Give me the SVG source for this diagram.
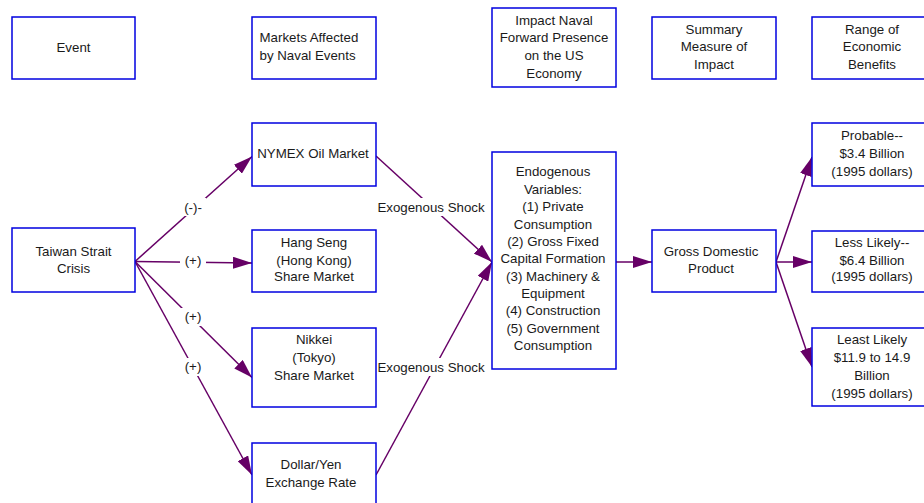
<svg xmlns="http://www.w3.org/2000/svg" width="924" height="503" viewBox="0 0 924 503">
<style>
.box{fill:#fff;stroke:#0000e0;stroke-width:1.5}
.t{font-family:"Liberation Sans",Arial,sans-serif;font-size:13.3px;fill:#1a1a1a;text-anchor:middle}
.tl{text-anchor:start}
.c{stroke:#660066;stroke-width:1.5;fill:none;marker-end:url(#ah)}
.lb{fill:#fff}
</style>
<defs>
<marker id="ah" markerUnits="userSpaceOnUse" markerWidth="20" markerHeight="12" refX="19" refY="6" orient="auto">
<path d="M0,0 L19,6 L0,12 Z" fill="#660066"/>
</marker>
</defs>
<rect width="924" height="503" fill="#fff"/>

<g id="connectors">
<path class="c" d="M135,261.5 L252,156.5"/>
<path class="c" d="M135,261.5 L252,263"/>
<path class="c" d="M135,261.5 L252,377.5"/>
<path class="c" d="M135,261.5 L252,475"/>
<path class="c" d="M376,156 L492,262"/>
<path class="c" d="M376,475 L492,262"/>
<path class="c" d="M616,262 L652,262"/>
<path class="c" d="M776,262 L812,157"/>
<path class="c" d="M776,262 L812,262"/>
<path class="c" d="M776,262 L812,367"/>
<rect class="lb" x="180" y="198" width="26" height="18"/>
<text class="t" x="193" y="212">(-)-</text>
<rect class="lb" x="180" y="252" width="26" height="18"/>
<text class="t" x="193" y="265">(+)</text>
<rect class="lb" x="180" y="308" width="26" height="18"/>
<text class="t" x="193" y="321">(+)</text>
<rect class="lb" x="180" y="358" width="26" height="18"/>
<text class="t" x="193" y="371">(+)</text>
<rect class="lb" x="376" y="198" width="110" height="18"/>
<text class="t" x="431" y="211.5">Exogenous Shock</text>
<rect class="lb" x="376" y="358" width="110" height="18"/>
<text class="t" x="431" y="371.5">Exogenous Shock</text>
</g>

<g id="event"><rect class="box" x="12" y="17" width="123" height="62"/><text class="t" x="73.5" y="51.5">Event</text></g>
<g id="markets"><rect class="box" x="252" y="17" width="124" height="62"/><text class="t tl" x="259.5" y="42">Markets Affected</text><text class="t tl" x="259.5" y="60">by Naval Events</text></g>
<g id="impact"><rect class="box" x="492" y="8" width="124" height="79"/><text class="t" x="554" y="24.5">Impact Naval</text><text class="t" x="554" y="42">Forward Presence</text><text class="t" x="554" y="59.5">on the US</text><text class="t" x="554" y="77.5">Economy</text></g>
<g id="summary"><rect class="box" x="652" y="17" width="124" height="62"/><text class="t" x="714" y="33.5">Summary</text><text class="t" x="714" y="51">Measure of</text><text class="t" x="714" y="68.5">Impact</text></g>
<g id="range"><rect class="box" x="812" y="17" width="124" height="62"/><text class="t" x="872" y="33.5">Range of</text><text class="t" x="872" y="51">Economic</text><text class="t" x="872" y="68.5">Benefits</text></g>

<g id="taiwan"><rect class="box" x="12" y="228" width="123" height="64"/><text class="t" x="73.5" y="256">Taiwan Strait</text><text class="t" x="73.5" y="273">Crisis</text></g>
<g id="nymex"><rect class="box" x="252" y="123" width="124" height="63"/><text class="t" x="313" y="158">NYMEX Oil Market</text></g>
<g id="hangseng"><rect class="box" x="252" y="230" width="124" height="62"/><text class="t" x="314" y="247">Hang Seng</text><text class="t" x="314" y="264.5">(Hong Kong)</text><text class="t" x="314" y="281">Share Market</text></g>
<g id="nikkei"><rect class="box" x="252" y="328" width="124" height="79"/><text class="t" x="314" y="344">Nikkei</text><text class="t" x="314" y="362">(Tokyo)</text><text class="t" x="314" y="380">Share Market</text></g>
<g id="dollaryen"><rect class="box" x="252" y="443" width="124" height="64"/><text class="t" x="311" y="469">Dollar/Yen</text><text class="t" x="311" y="487">Exchange Rate</text></g>

<g id="endogenous"><rect class="box" x="492" y="152" width="124" height="217"/>
<text class="t" x="553" y="176">Endogenous</text>
<text class="t" x="553" y="193.5">Variables:</text>
<text class="t" x="553" y="211">(1) Private</text>
<text class="t" x="553" y="228.5">Consumption</text>
<text class="t" x="553" y="246">(2) Gross Fixed</text>
<text class="t" x="553" y="263">Capital Formation</text>
<text class="t" x="553" y="280.5">(3) Machinery &amp;</text>
<text class="t" x="553" y="298">Equipment</text>
<text class="t" x="553" y="315">(4) Construction</text>
<text class="t" x="553" y="332.5">(5) Government</text>
<text class="t" x="553" y="350">Consumption</text>
</g>
<g id="gdp"><rect class="box" x="652" y="230" width="124" height="62"/><text class="t" x="711" y="256">Gross Domestic</text><text class="t" x="711" y="273">Product</text></g>

<g id="probable"><rect class="box" x="812" y="123" width="124" height="63"/><text class="t" x="872" y="139.5">Probable--</text><text class="t" x="872" y="157.5">$3.4 Billion</text><text class="t" x="872" y="176">(1995 dollars)</text></g>
<g id="lesslikely"><rect class="box" x="812" y="231" width="124" height="61"/><text class="t" x="872" y="246.5">Less Likely--</text><text class="t" x="872" y="264.5">$6.4 Billion</text><text class="t" x="872" y="281">(1995 dollars)</text></g>
<g id="leastlikely"><rect class="box" x="812" y="328" width="124" height="78"/><text class="t" x="872" y="344">Least Likely</text><text class="t" x="872" y="362">$11.9 to 14.9</text><text class="t" x="872" y="380">Billion</text><text class="t" x="872" y="397.5">(1995 dollars)</text></g>
</svg>
